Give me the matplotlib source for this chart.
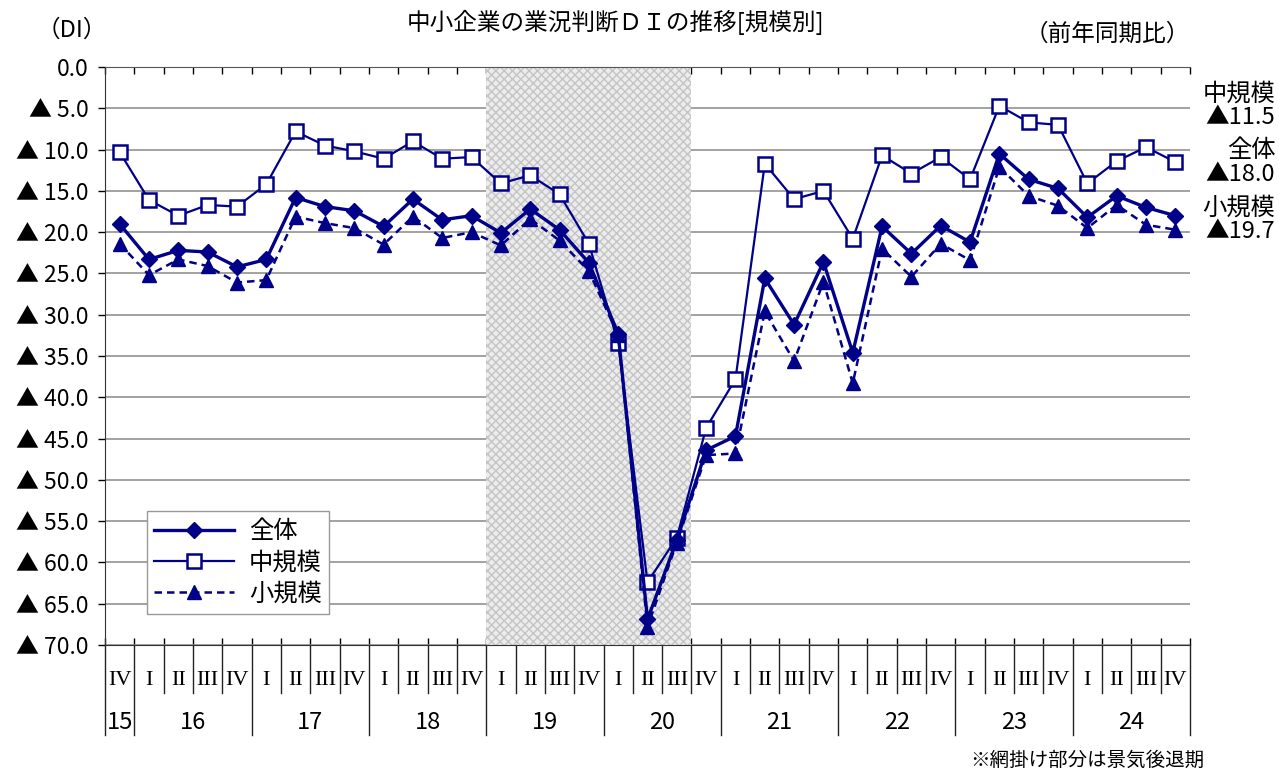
import matplotlib
matplotlib.use("Agg")
import matplotlib.pyplot as plt
import matplotlib.transforms as mtransforms

plt.rcParams['font.family'] = ['Noto Sans CJK JP', 'DejaVu Sans']

# quarters from 2015 IV to 2024 IV
quarters = ['IV'] + ['I', 'II', 'III', 'IV'] * 9
years = ['15', '16', '17', '18', '19', '20', '21', '22', '23', '24']

# business condition DI (negative values, shown as ▲)
di_all = [19.0, 23.3, 22.2, 22.4, 24.2, 23.3, 15.8, 16.9, 17.4, 19.3, 16.0, 18.5, 18.0,
          20.1, 17.2, 19.7, 23.7, 32.3, 66.9, 57.3, 46.4, 44.7, 25.6, 31.2, 23.6,
          34.6, 19.3, 22.6, 19.2, 21.2, 10.5, 13.6, 14.7, 18.2, 15.6, 17.0, 18.0]
di_medium = [10.3, 16.1, 18.0, 16.7, 16.9, 14.2, 7.8, 9.5, 10.2, 11.1, 9.0, 11.1, 10.9,
             14.1, 13.1, 15.4, 21.4, 33.4, 62.4, 57.0, 43.7, 37.8, 11.7, 16.0, 15.0,
             20.8, 10.7, 12.9, 10.9, 13.6, 4.7, 6.7, 7.0, 14.1, 11.4, 9.7, 11.5]
di_small = [21.4, 25.2, 23.3, 24.1, 26.1, 25.8, 18.1, 18.9, 19.5, 21.5, 18.1, 20.7, 20.0,
            21.6, 18.4, 21.0, 24.7, 32.5, 67.8, 57.6, 47.0, 46.8, 29.6, 35.6, 26.0,
            38.3, 22.0, 25.4, 21.4, 23.4, 12.1, 15.6, 16.8, 19.5, 16.7, 19.1, 19.7]

# recession period: 2019 I .. 2020 III (quarter index)
recession = (13, 19)

navy = '#000088'
x = list(range(len(quarters)))

fig = plt.figure(figsize=(12.79, 7.70), dpi=100)
ax = fig.add_axes([0.0821, 0.1623, 0.8483, 0.7506])

ax.axvspan(recession[0] - 0.5, recession[1] + 0.5, facecolor='#ececec',
           edgecolor='#c4c4c4', hatch='xxxx', linewidth=0, zorder=1)

ax.plot(x, di_all, color=navy, lw=2.4, marker='D', ms=8, label='全体', zorder=4)
ax.plot(x, di_medium, color=navy, lw=1.6, marker='s', ms=10, mfc='white',
        mec=navy, mew=1.8, label='中規模', zorder=3)
ax.plot(x, di_small, color=navy, lw=1.8, ls=(0, (3, 2)), marker='^', ms=10,
        label='小規模', zorder=3)

ax.set_xlim(-0.5, len(quarters) - 0.5)
ax.set_ylim(70, 0)
yt = list(range(0, 75, 5))
ax.set_yticks(yt)
ax.set_yticklabels(['0.0'] + [f'▲ {v:.1f}' for v in yt[1:]], fontsize=16.5)
ax.tick_params(axis='y', direction='out', length=5, width=1, pad=7)
ax.grid(axis='y', color='#929292', lw=1.2)
ax.set_axisbelow(True)

bounds = [i - 0.5 for i in range(len(quarters) + 1)]
ax.set_xticks(bounds)
ax.set_xticklabels([])
ax.tick_params(axis='x', direction='in', length=5, width=1, top=True, bottom=True)

ax.spines['right'].set_visible(False)
ax.spines['top'].set_color('#555555')
ax.spines['left'].set_color('#333333')
ax.spines['bottom'].set_color('#333333')

# category table under the plot
trans = mtransforms.blended_transform_factory(ax.transData, ax.transAxes)
year_edges = [-0.5] + [0.5 + 4 * k for k in range(9)] + [len(quarters) - 0.5]
for b in bounds:
    low = -0.156 if b in year_edges else -0.083
    ax.plot([b, b], [0, low], transform=trans, color='#222222', lw=1, clip_on=False)
for i, q in enumerate(quarters):
    ax.text(i, -0.062, q, transform=trans, ha='center', va='center', fontsize=16,
            family='Liberation Serif')
year_pos = [0] + [2.5 + 4 * k for k in range(9)]
for p, yr in zip(year_pos, years):
    ax.text(p, -0.134, yr, transform=trans, ha='center', va='center', fontsize=17,
            family=['Noto Sans CJK JP', 'DejaVu Sans'])

ax.legend(loc='upper left', bbox_to_anchor=(0.0387, 0.232), borderaxespad=0,
          fontsize=17.5, frameon=True, fancybox=False, edgecolor='#999999',
          framealpha=1, handlelength=3.3, labelspacing=0.22, borderpad=0.3,
          handletextpad=0.6)

fig.text(0.481, 0.971, '中小企業の業況判断ＤＩの推移[規模別]', ha='center', va='center', fontsize=17)
fig.text(0.029, 0.961, '（DI）', ha='left', va='center', fontsize=17)
fig.text(0.930, 0.955, '（前年同期比）', ha='right', va='center', fontsize=17)
fig.text(0.942, 0.013, '※網掛け部分は景気後退期', ha='right', va='center', fontsize=14)

# latest values on the right
side_labels = [('中規模', di_medium[-1], 0.879), ('全体', di_all[-1], 0.805),
               ('小規模', di_small[-1], 0.731)]
for name, val, yy in side_labels:
    fig.text(0.997, yy, name, ha='right', va='center', fontsize=17.5)
    fig.text(0.997, yy - 0.031, f'▲{val:.1f}', ha='right', va='center', fontsize=17)

fig.savefig('out.png', dpi=100)
